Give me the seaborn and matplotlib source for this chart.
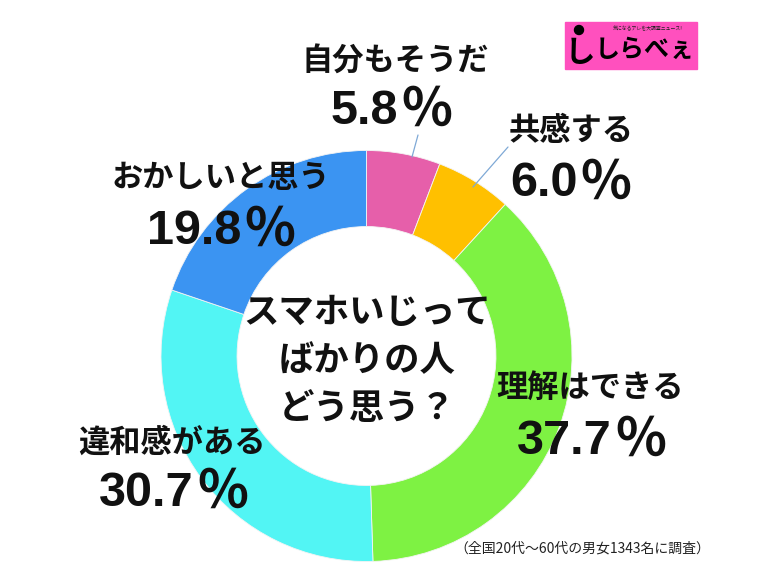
import matplotlib
matplotlib.use("Agg")
import matplotlib.pyplot as plt
import matplotlib.patches as mpatches
import seaborn as sns

# survey data
answers = ['自分もそうだ', '共感する', '理解はできる', '違和感がある', 'おかしいと思う']
shares = [5.8, 6.0, 37.7, 30.7, 19.8]
slice_colors = ['#E65FAA', '#FFC000', '#7EF243', '#52F5F4', '#3B94F2']

title_lines = ['スマホいじって', 'ばかりの人', 'どう思う？']
footnote = '（全国20代～60代の男女1343名に調査）'

W, H = 768, 568

sns.set_theme(style='white')
plt.rcParams['font.family'] = ['Noto Sans CJK JP', 'DejaVu Sans']

fig = plt.figure(figsize=(W / 100, H / 100), dpi=100)
ax = fig.add_axes([0, 0, 1, 1])

# donut, clockwise from 12 o'clock
cx, cy, r = 366.5, H - 356, 205.5
ax.pie(shares, colors=sns.color_palette(slice_colors), startangle=90, counterclock=False,
       center=(cx, cy), radius=r,
       wedgeprops=dict(width=r * 0.37, edgecolor='#f4f4f4', linewidth=0.6))

ax.set_xlim(0, W)
ax.set_ylim(0, H)
ax.set_aspect('equal')
ax.axis('off')

# label positions in pixels (x, y from top)
name_pos = [(395, 62), (571, 131), (590, 388), (172, 443), (221, 178)]
pct_pos = [(392, 111), (571, 184), (592, 441), (174, 493), (222, 231)]

renderer = fig.canvas.get_renderer()
gap = 2
for name, v, (nx, ny), (px, py) in zip(answers, shares, name_pos, pct_pos):
    ax.text(nx, H - ny, name, ha='center', va='center', fontsize=22.5,
            fontweight='bold', color='#111111')
    # number and the full-width percent sign drawn side by side
    num = ax.text(0, H - py, f'{v:.1f}', ha='left', va='center', fontsize=35,
                  fontweight='bold', family='Liberation Sans', color='#111111')
    pc = ax.text(0, H - py + 1, '％', ha='left', va='center', fontsize=38,
                 fontweight='bold', color='#111111')
    w_num = num.get_window_extent(renderer).width
    w_pc = pc.get_window_extent(renderer).width
    x0 = px - (w_num + gap + w_pc) / 2
    num.set_x(x0)
    pc.set_x(x0 + w_num + gap)

# leader lines for the two small slices
ax.plot([418, 412], [H - 135, H - 157], color='#7FA9D6', lw=0.9)
ax.plot([508, 473], [H - 147, H - 187], color='#7FA9D6', lw=0.9)

# centre question
for line, y in zip(title_lines, [312, 361, 409]):
    ax.text(367, H - y, line, ha='center', va='center', fontsize=25.5,
            fontweight='bold', color='#111111')

ax.text(710, H - 549, footnote, ha='right', va='center', fontsize=10, color='#222222')

# logo box
ax.add_patch(mpatches.Rectangle((565, H - 69), 132, 47, color='#FF50BE', zorder=3))
ax.text(648, H - 29, '気になるアレを大調査ニュース!', ha='center', va='center',
        fontsize=3.5, color='#222222', zorder=4)
ax.add_patch(mpatches.Circle((579, H - 30), 4.5, color='black', zorder=4))
ax.text(580, H - 53, 'し', ha='center', va='center', fontsize=22, fontweight='bold',
        color='black', zorder=4)
ax.text(645, H - 50, 'しらべぇ', ha='center', va='center', fontsize=18,
        fontweight='bold', color='black', zorder=4)

plt.savefig('out.png', dpi=100)
